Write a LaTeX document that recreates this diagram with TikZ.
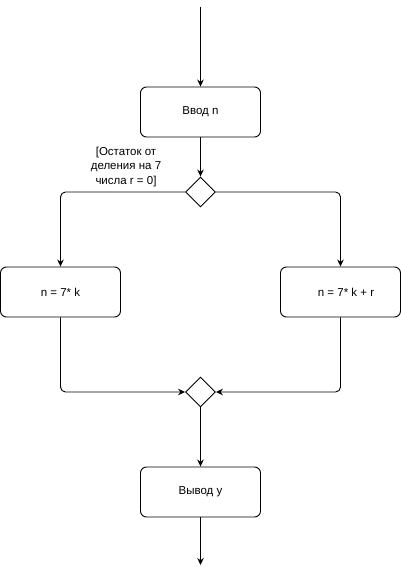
\documentclass[tikz,border=0pt]{standalone}
\usepackage{fontspec}
\setmainfont{Liberation Sans}
\usetikzlibrary{arrows.meta,shapes.geometric}
\begin{document}
\begin{tikzpicture}[x=1pt,y=-1pt,
  every node/.style={font=\fontsize{11.5}{14}\selectfont},
  actbox/.style={draw=black,line width=0.9pt,rounded corners=6pt,minimum width=120pt,minimum height=50pt,inner sep=0pt},
  decis/.style={draw=black,line width=0.9pt,diamond,minimum width=30pt,minimum height=30pt,inner sep=0pt,aspect=1},
  flow/.style={draw=black,line width=0.9pt,rounded corners=5pt,-{Stealth[length=7pt,width=6.5pt]}}
]
\useasboundingbox (0,0) rectangle (401,567);
\coordinate (start) at (200.5,7);
\node[actbox] (in) at (200.5,112) {Ввод n};
\node[decis] (d1) at (200.5,192) {};
\node[actbox] (left) at (60.5,292) {};
\node at (60.5,292) {n = 7* k};
\node[actbox] (right) at (340.5,292) {};
\node (rt) at (346,292) {n = 7* k + r};
\node[decis] (d2) at (200.5,392) {};
\node[actbox] (out) at (200.5,492) {Вывод y};
\coordinate (end) at (200.5,565);
\node[align=center,font=\fontsize{11.5}{14.2}\selectfont] (lbl) at (126,167) {[Остаток от\\деления на 7\\числа r = 0]};
\draw[flow] (start) -- (in.north);
\draw[flow] (in.south) -- (d1.north);
\draw[flow] (d1.west) -| (left.north);
\draw[flow] (d1.east) -| (right.north);
\draw[flow] (left.south) |- (d2.west);
\draw[flow] (right.south) |- (d2.east);
\draw[flow] (d2.south) -- (out.north);
\draw[flow] (out.south) -- (end);
\end{tikzpicture}
\end{document}
